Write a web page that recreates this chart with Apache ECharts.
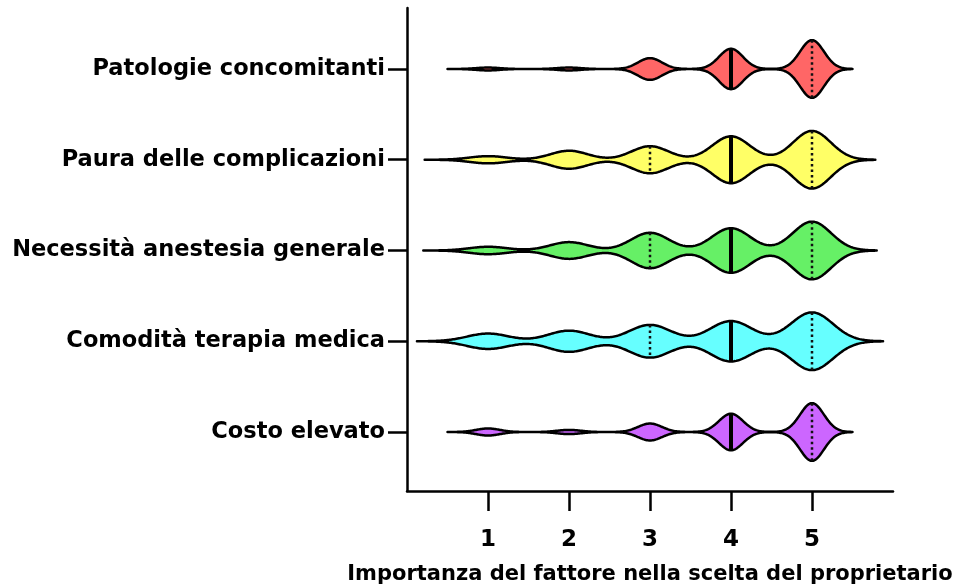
<!DOCTYPE html>
<html>
<head>
<meta charset="utf-8">
<script src="https://cdn.jsdelivr.net/npm/echarts@6/dist/echarts.min.js"></script>
<style>
  html, body { margin: 0; padding: 0; background: #ffffff; }
  #chart { width: 957px; height: 588px; }
</style>
</head>
<body>
<div id="chart"></div>
<script>
// Factors, listed from the bottom of the vertical axis to the top
const factors = [
  'Costo elevato',
  'Comodità terapia medica',
  'Necessità anestesia generale',
  'Paura delle complicazioni',
  'Patologie concomitanti'
];

// Importance scores (1..5) and their tick labels
const scores = [1, 2, 3, 4, 5];
const scoreLabels = ['1', '2', '3', '4', '5'];

// Number of owners giving each score (1..5) to each factor
const countsCosto      = [5, 3, 12, 26, 41];
const countsComodita   = [8, 11, 17, 21, 30];
const countsAnestesia  = [4, 9, 19, 24, 31];
const countsPaura      = [4, 10, 15, 26, 32];
const countsPatologie  = [2, 2, 15, 28, 40];

// Violin fill colours, same order as factors
const fillColors = ['#CC66FF', '#66FFFF', '#66F066', '#FFFF66', '#FF6666'];

// Kernel bandwidth of each violin's density estimate
const bandwidths = [0.147, 0.258, 0.235, 0.23, 0.147];

const allCounts = [countsCosto, countsComodita, countsAnestesia, countsPaura, countsPatologie];

// Half-width of the widest point of every violin, in vertical axis units
const MAX_HALF = 0.318;
// The density curve is carried this many bandwidths past the extreme scores
const CUT = 3.4;

function expand(counts) {
  const out = [];
  counts.forEach((n, k) => { for (let j = 0; j < n; j++) out.push(scores[k]); });
  return out;
}

function percentile(sorted, p) {
  // (n + 1) p rank with linear interpolation
  const n = sorted.length;
  let r = (n + 1) * p;
  r = Math.min(Math.max(r, 1), n);
  const lo = Math.floor(r), hi = Math.ceil(r);
  return sorted[lo - 1] + (r - lo) * (sorted[hi - 1] - sorted[lo - 1]);
}

function kde(values, h, x) {
  let s = 0;
  for (const v of values) {
    const z = (x - v) / h;
    s += Math.exp(-0.5 * z * z);
  }
  return s;
}

// Density profile and summary lines of every violin
const violins = allCounts.map((counts, i) => {
  const values = expand(counts).sort((a, b) => a - b);
  const h = bandwidths[i];
  const lo = values[0] - CUT * h;
  const hi = values[values.length - 1] + CUT * h;
  const steps = 400;
  const xs = [], dens = [];
  for (let k = 0; k <= steps; k++) {
    const x = lo + (hi - lo) * k / steps;
    xs.push(x);
    dens.push(kde(values, h, x));
  }
  const peak = Math.max(...dens);
  const widthAt = (x) => kde(values, h, x) / peak;
  return {
    xs,
    w: dens.map(d => d / peak),
    widthAt,
    q1: percentile(values, 0.25),
    median: percentile(values, 0.5),
    q3: percentile(values, 0.75)
  };
});

const chart = echarts.init(document.getElementById('chart'), null, { renderer: 'canvas' });

const FONT = 'DejaVu Sans';

const option = {
  animation: false,
  backgroundColor: '#ffffff',
  grid: {
    left: 407, right: 64, top: 8, bottom: 97,
    containLabel: false,
    outerBoundsMode: 'none'
  },
  xAxis: {
    type: 'value',
    min: 0,
    max: 6,
    name: 'Importanza del fattore nella scelta del proprietario',
    nameLocation: 'middle',
    nameGap: 73,
    nameTextStyle: { color: '#000', fontSize: 21, fontWeight: 'bold', fontFamily: FONT },
    axisLine: { onZero: false, lineStyle: { color: '#000', width: 2.5 } },
    axisTick: { customValues: scores, length: 20, lineStyle: { color: '#000', width: 2.5 } },
    axisLabel: {
      customValues: scores,
      formatter: (v) => scoreLabels[scores.indexOf(Math.round(v))],
      color: '#000', fontSize: 23, fontWeight: 'bold', fontFamily: FONT, margin: 38
    },
    splitLine: { show: false }
  },
  yAxis: {
    type: 'value',
    min: 0.35,
    max: 5.672,
    axisLine: { onZero: false, lineStyle: { color: '#000', width: 2.5 } },
    axisTick: { customValues: [1, 2, 3, 4, 5], length: 19, lineStyle: { color: '#000', width: 2.5 } },
    axisLabel: {
      customValues: [1, 2, 3, 4, 5],
      formatter: (v) => factors[Math.round(v) - 1],
      color: '#000', fontSize: 22.5, fontWeight: 'bold', fontFamily: FONT, margin: 22
    },
    splitLine: { show: false }
  },
  series: [{
    type: 'custom',
    coordinateSystem: 'cartesian2d',
    encode: { x: 1, y: 2 },
    data: factors.map((f, i) => [i, 3, i + 1]),
    renderItem: (params, api) => {
      const i = api.value(0);
      const v = violins[i];
      const yc = i + 1;
      const top = [], bottom = [];
      v.xs.forEach((x, k) => {
        const hw = v.w[k] * MAX_HALF;
        top.push(api.coord([x, yc + hw]));
        bottom.push(api.coord([x, yc - hw]));
      });
      const outline = top.concat(bottom.reverse());
      const children = [{
        type: 'polygon',
        shape: { points: outline },
        style: { fill: fillColors[i], stroke: '#000', lineWidth: 2.5, lineJoin: 'round' }
      }];
      const vline = (x, style) => {
        const hw = v.widthAt(x) * MAX_HALF;
        const p1 = api.coord([x, yc + hw]);
        const p2 = api.coord([x, yc - hw]);
        return { type: 'line', shape: { x1: p1[0], y1: p1[1], x2: p2[0], y2: p2[1] }, style };
      };
      const dotted = { stroke: '#111', lineWidth: 2.5, lineDash: [2.5, 3] };
      [v.q1, v.q3].forEach(q => {
        if (q !== v.median) children.push(vline(q, dotted));
      });
      children.push(vline(v.median, { stroke: '#000', lineWidth: 4 }));
      return { type: 'group', children };
    }
  }]
};

chart.setOption(option);
</script>
</body>
</html>
